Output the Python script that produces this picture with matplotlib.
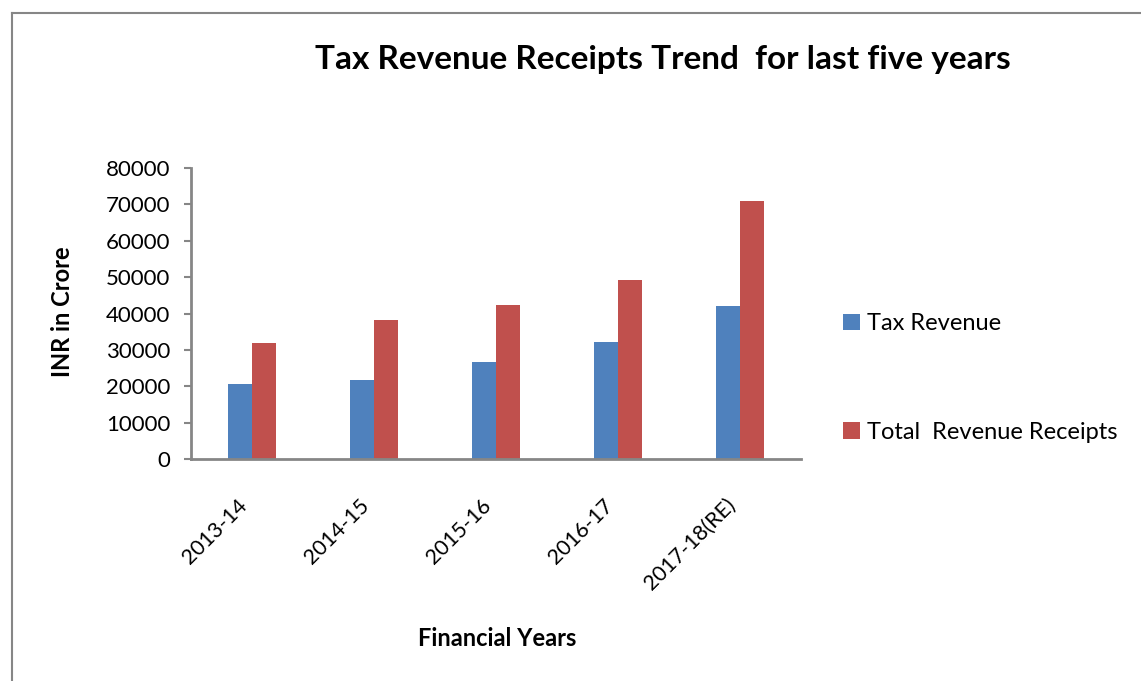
import matplotlib.pyplot as plt
import numpy as np
from matplotlib.lines import Line2D
from matplotlib.transforms import ScaledTranslation

years = ["2013-14", "2014-15", "2015-16", "2016-17", "2017-18(RE)"]
tax_revenue = [20500, 21700, 26800, 32200, 42100]
total_revenue_receipts = [32000, 38100, 42300, 49200, 70800]
y_ticks = [0, 10000, 20000, 30000, 40000, 50000, 60000, 70000, 80000]

BLUE = "#4F81BD"
RED = "#C0504D"
GREY = "#868686"
FONT = ["Lato", "DejaVu Sans"]

plt.rcParams["font.family"] = FONT

W, H = 1141, 681
fig = plt.figure(figsize=(W / 100, H / 100), dpi=100)

# plot area in pixel terms
left, right, top, bottom = 191, 801, 168, 459
ax = fig.add_axes([left / W, 1 - bottom / H, (right - left) / W, (bottom - top) / H])

x = np.arange(len(years))
bw = 0.2
b1 = ax.bar(x - bw / 2, tax_revenue, bw, color=BLUE, label="Tax Revenue")
b2 = ax.bar(x + bw / 2, total_revenue_receipts, bw, color=RED,
            label="Total  Revenue Receipts")

ax.set_xlim(-0.5, len(years) - 0.5)
ax.set_ylim(0, 80000)
ax.set_yticks(y_ticks)
ax.set_yticklabels([str(v) for v in y_ticks], fontsize=16, color="black")
ax.set_xticks(x)
ax.set_xticklabels(years, rotation=45, ha="right", va="center",
                   rotation_mode="anchor", fontsize=15.5)
ax.tick_params(axis="x", length=0, pad=31)
ax.tick_params(axis="y", length=5, width=1.5, color=GREY, pad=10)
shift = ScaledTranslation(-8 / 100, 0, fig.dpi_scale_trans)
for lbl in ax.get_xticklabels():
    lbl.set_transform(lbl.get_transform() + shift)

for s in ["top", "right"]:
    ax.spines[s].set_visible(False)
for s in ["left", "bottom"]:
    ax.spines[s].set_color(GREY)
    ax.spines[s].set_linewidth(2)

fig.text(63 / W, 1 - 312 / H, "INR in Crore", fontsize=17, fontweight="bold",
         rotation=90, ha="center", va="center")
fig.text(497 / W, 1 - 638 / H, "Financial Years", fontsize=17,
         fontweight="bold", ha="center", va="center")

fig.text(663 / W, 1 - 59 / H, "Tax Revenue Receipts Trend  for last five years",
         fontsize=24, fontweight="bold", ha="center", va="center")

leg = fig.legend(handles=[b1, b2], loc="center left",
                 bbox_to_anchor=(822 / W, 1 - 378 / H), frameon=False,
                 fontsize=17, labelspacing=3.7, handlelength=0.7,
                 handleheight=0.7, handletextpad=0.3)

# outer frame
fig.add_artist(Line2D([12 / W, 12 / W], [0, 1 - 13 / H], color=GREY, lw=1.5,
                      transform=fig.transFigure))
fig.add_artist(Line2D([12 / W, 1], [1 - 13 / H, 1 - 13 / H], color=GREY, lw=1.5,
                      transform=fig.transFigure))

fig.savefig("out.png", dpi=100)
